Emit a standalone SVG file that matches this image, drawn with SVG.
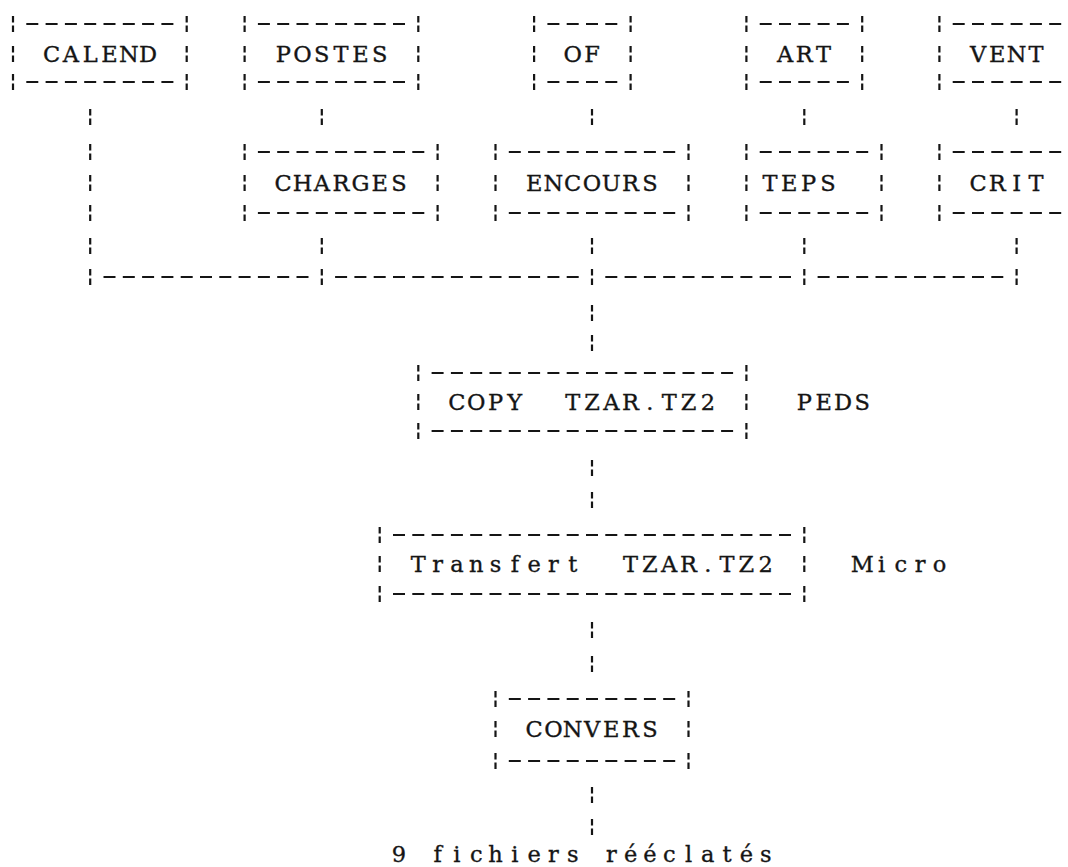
<svg xmlns="http://www.w3.org/2000/svg" xmlns:xlink="http://www.w3.org/1999/xlink" width="1068" height="867" viewBox="0 0 1068 867">
<style>
.d{stroke:#151515;stroke-width:2;stroke-dasharray:12 7.3;fill:none}
.t{font-family:"DejaVu Serif","Liberation Serif",serif;font-size:22.5px;fill:#151515;stroke:#151515;stroke-width:0.35;text-anchor:middle;white-space:pre}
</style>
<defs>
<path id="bb" d="M0,-8V-1.5M0,1.5V8" stroke="#151515" stroke-width="2.2" fill="none"/>
</defs>
<rect width="1068" height="867" fill="#fff"/>

<g id="connectors">
<path class="d" d="M103.5,277H308.5M335.1,277H578.7M605.3,277H791M817.6,277H1003.3"/>
<use href="#bb" x="90.2" y="117"/><use href="#bb" x="90.2" y="152"/><use href="#bb" x="90.2" y="183"/><use href="#bb" x="90.2" y="213"/><use href="#bb" x="90.2" y="246"/><use href="#bb" x="90.2" y="277"/>
<use href="#bb" x="321.8" y="117"/><use href="#bb" x="321.8" y="246"/><use href="#bb" x="321.8" y="277"/>
<use href="#bb" x="592" y="117"/><use href="#bb" x="592" y="246"/><use href="#bb" x="592" y="277"/><use href="#bb" x="592" y="313"/><use href="#bb" x="592" y="343"/>
<use href="#bb" x="592" y="468"/><use href="#bb" x="592" y="500"/>
<use href="#bb" x="592" y="630"/><use href="#bb" x="592" y="664"/>
<use href="#bb" x="592" y="795"/><use href="#bb" x="592" y="827"/>
<use href="#bb" x="804.3" y="117"/><use href="#bb" x="804.3" y="246"/><use href="#bb" x="804.3" y="277"/>
<use href="#bb" x="1016.6" y="117"/><use href="#bb" x="1016.6" y="246"/><use href="#bb" x="1016.6" y="277"/>
</g>

<g id="n-calend">
<path class="d" d="M26.3,24H173.4M26.3,82H173.4"/>
<use href="#bb" x="13" y="24"/><use href="#bb" x="13" y="54"/><use href="#bb" x="13" y="82"/>
<use href="#bb" x="186.7" y="24"/><use href="#bb" x="186.7" y="54"/><use href="#bb" x="186.7" y="82"/>
<text class="t" x="51.6 70.9 90.2 109.5 128.8 148.1" y="62">CALEND</text>
</g>

<g id="n-postes">
<path class="d" d="M257.9,24H405M257.9,82H405"/>
<use href="#bb" x="244.6" y="24"/><use href="#bb" x="244.6" y="54"/><use href="#bb" x="244.6" y="82"/>
<use href="#bb" x="418.3" y="24"/><use href="#bb" x="418.3" y="54"/><use href="#bb" x="418.3" y="82"/>
<text class="t" x="283.2 302.5 321.8 341.1 360.4 379.7" y="62">POSTES</text>
</g>

<g id="n-of">
<path class="d" d="M547.4,24H617.3M547.4,82H617.3"/>
<use href="#bb" x="534.1" y="24"/><use href="#bb" x="534.1" y="54"/><use href="#bb" x="534.1" y="82"/>
<use href="#bb" x="630.6" y="24"/><use href="#bb" x="630.6" y="54"/><use href="#bb" x="630.6" y="82"/>
<text class="t" x="572.7 592" y="62">OF</text>
</g>

<g id="n-art">
<path class="d" d="M759.7,24H848.9M759.7,82H848.9"/>
<use href="#bb" x="746.4" y="24"/><use href="#bb" x="746.4" y="54"/><use href="#bb" x="746.4" y="82"/>
<use href="#bb" x="862.2" y="24"/><use href="#bb" x="862.2" y="54"/><use href="#bb" x="862.2" y="82"/>
<text class="t" x="785 804.3 823.6" y="62">ART</text>
</g>

<g id="n-vent">
<path class="d" d="M952.7,24H1061.2M952.7,82H1061.2"/>
<use href="#bb" x="939.4" y="24"/><use href="#bb" x="939.4" y="54"/><use href="#bb" x="939.4" y="82"/>
<text class="t" x="978 997.3 1016.6 1035.9" y="62">VENT</text>
</g>

<g id="n-charges">
<path class="d" d="M257.9,152H424.3M257.9,213H424.3"/>
<use href="#bb" x="244.6" y="152"/><use href="#bb" x="244.6" y="183"/><use href="#bb" x="244.6" y="213"/>
<use href="#bb" x="437.6" y="152"/><use href="#bb" x="437.6" y="183"/><use href="#bb" x="437.6" y="213"/>
<text class="t" x="283.2 302.5 321.8 341.1 360.4 379.7 399" y="191">CHARGES</text>
</g>

<g id="n-encours">
<path class="d" d="M508.8,152H675.2M508.8,213H675.2"/>
<use href="#bb" x="495.5" y="152"/><use href="#bb" x="495.5" y="183"/><use href="#bb" x="495.5" y="213"/>
<use href="#bb" x="688.5" y="152"/><use href="#bb" x="688.5" y="183"/><use href="#bb" x="688.5" y="213"/>
<text class="t" x="534.1 553.4 572.7 592 611.3 630.6 649.9" y="191">ENCOURS</text>
</g>

<g id="n-teps">
<path class="d" d="M759.7,152H868.2M759.7,213H868.2"/>
<use href="#bb" x="746.4" y="152"/><use href="#bb" x="746.4" y="183"/><use href="#bb" x="746.4" y="213"/>
<use href="#bb" x="881.5" y="152"/><use href="#bb" x="881.5" y="183"/><use href="#bb" x="881.5" y="213"/>
<text class="t" x="770 789.3 808.6 827.9" y="191">TEPS</text>
</g>

<g id="n-crit">
<path class="d" d="M952.7,152H1061.2M952.7,213H1061.2"/>
<use href="#bb" x="939.4" y="152"/><use href="#bb" x="939.4" y="183"/><use href="#bb" x="939.4" y="213"/>
<text class="t" x="978 997.3 1016.6 1035.9" y="191">CRIT</text>
</g>

<g id="n-copy">
<path class="d" d="M431.6,373H733.1M431.6,431H733.1"/>
<use href="#bb" x="418.3" y="373"/><use href="#bb" x="418.3" y="402"/><use href="#bb" x="418.3" y="431"/>
<use href="#bb" x="746.4" y="373"/><use href="#bb" x="746.4" y="402"/><use href="#bb" x="746.4" y="431"/>
<text class="t" x="456.9 476.2 495.5 514.8 534.1 553.4 572.7 592 611.3 630.6 649.9 669.2 688.5 707.8" y="410">COPY  TZAR.TZ2</text>
<text class="t" x="804.3 823.6 842.9 862.2" y="410">PEDS</text>
</g>

<g id="n-transfert">
<path class="d" d="M393,535H791M393,594H791"/>
<use href="#bb" x="379.7" y="535"/><use href="#bb" x="379.7" y="564"/><use href="#bb" x="379.7" y="594"/>
<use href="#bb" x="804.3" y="535"/><use href="#bb" x="804.3" y="564"/><use href="#bb" x="804.3" y="594"/>
<text class="t" x="418.3 437.6 456.9 476.2 495.5 514.8 534.1 553.4 572.7 592 611.3 630.6 649.9 669.2 688.5 707.8 727.1 746.4 765.7" y="572">Transfert  TZAR.TZ2</text>
<text class="t" x="862.2 881.5 900.8 920.1 939.4" y="572">Micro</text>
</g>

<g id="n-convers">
<path class="d" d="M508.8,699H675.2M508.8,761H675.2"/>
<use href="#bb" x="495.5" y="699"/><use href="#bb" x="495.5" y="729"/><use href="#bb" x="495.5" y="761"/>
<use href="#bb" x="688.5" y="699"/><use href="#bb" x="688.5" y="729"/><use href="#bb" x="688.5" y="761"/>
<text class="t" x="534.1 553.4 572.7 592 611.3 630.6 649.9" y="737">CONVERS</text>
</g>

<g id="n-output">
<text class="t" x="399 418.3 437.6 456.9 476.2 495.5 514.8 534.1 553.4 572.7 592 611.3 630.6 649.9 669.2 688.5 707.8 727.1 746.4 765.7" y="862">9 fichiers rééclatés</text>
</g>
</svg>
